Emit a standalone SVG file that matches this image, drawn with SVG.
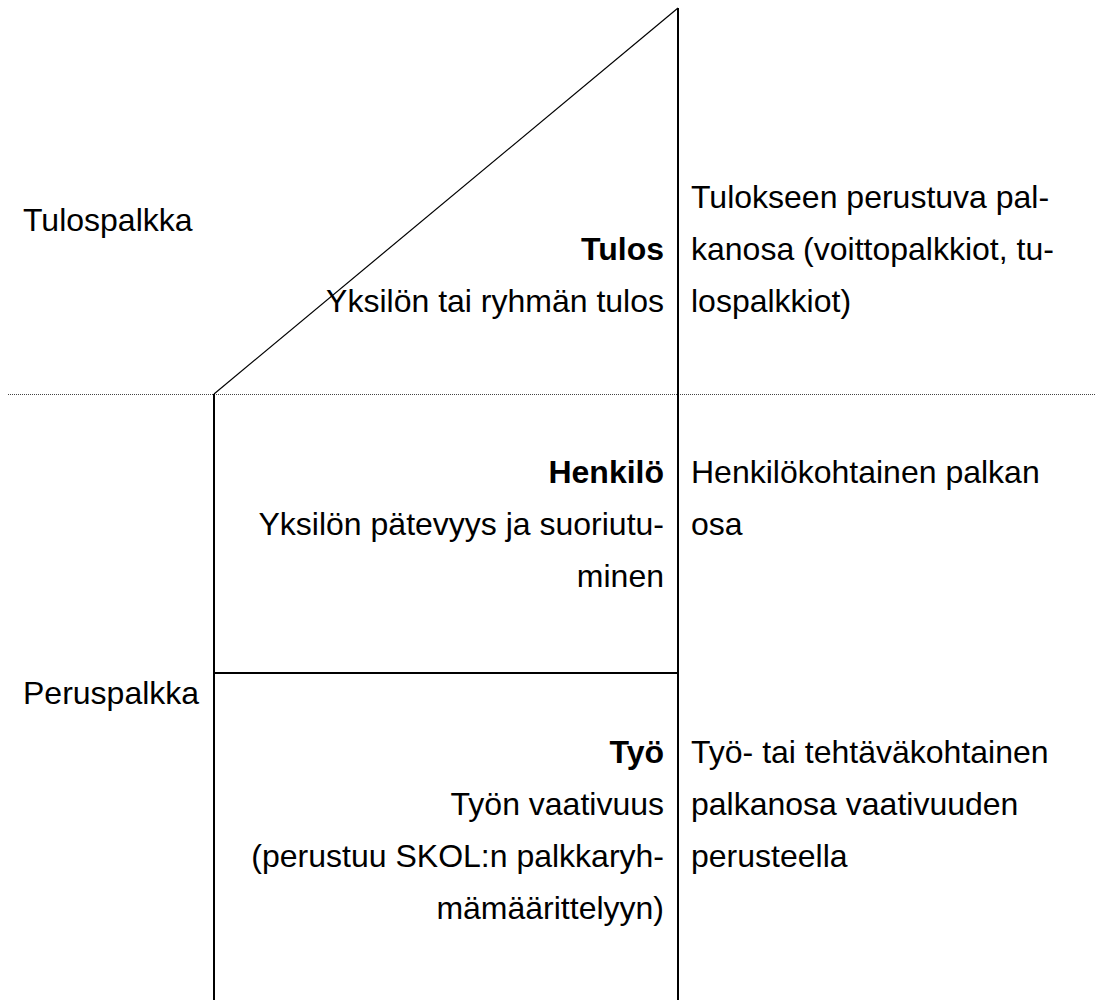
<svg xmlns="http://www.w3.org/2000/svg" width="1096" height="1000" viewBox="0 0 1096 1000">
<style>
text{font-family:"Liberation Sans",Arial,sans-serif;font-size:32px;fill:#000}
.b{font-weight:bold}
.m{text-anchor:end}
.ln{stroke:#000;stroke-width:2;fill:none}
.thin{stroke:#000;stroke-width:1.2;fill:none}
.dot{stroke:#444;stroke-width:1;stroke-dasharray:1 1;fill:none}
</style>
<rect width="1096" height="1000" fill="#fff"/>
<g id="connectors">
<line class="dot" x1="8" y1="394.5" x2="1096" y2="394.5"/>
<line class="thin" x1="678" y1="8" x2="214" y2="394"/>
<line class="ln" x1="678" y1="8" x2="678" y2="1000"/>
<line class="ln" x1="214" y1="394" x2="214" y2="1000"/>
<line class="ln" x1="214" y1="673" x2="678" y2="673"/>
</g>
<g id="label-tulospalkka"><text x="23" y="231">Tulospalkka</text></g>
<g id="label-peruspalkka"><text x="23" y="704">Peruspalkka</text></g>
<g id="node-tulos">
<text class="m b" x="664" y="260">Tulos</text>
<text class="m" x="664" y="312">Yksilön tai ryhmän tulos</text>
</g>
<g id="desc-tulos">
<text x="691" y="208">Tulokseen perustuva pal-</text>
<text x="691" y="260">kanosa (voittopalkkiot, tu-</text>
<text x="691" y="312">lospalkkiot)</text>
</g>
<g id="node-henkilo">
<text class="m b" x="664" y="483">Henkilö</text>
<text class="m" x="664" y="535">Yksilön pätevyys ja suoriutu-</text>
<text class="m" x="664" y="587">minen</text>
</g>
<g id="desc-henkilo">
<text x="691" y="483">Henkilökohtainen palkan</text>
<text x="691" y="535">osa</text>
</g>
<g id="node-tyo">
<text class="m b" x="664" y="763">Työ</text>
<text class="m" x="664" y="815">Työn vaativuus</text>
<text class="m" x="664" y="867">(perustuu SKOL:n palkkaryh-</text>
<text class="m" x="664" y="919">mämäärittelyyn)</text>
</g>
<g id="desc-tyo">
<text x="691" y="763">Työ- tai tehtäväkohtainen</text>
<text x="691" y="815">palkanosa vaativuuden</text>
<text x="691" y="867">perusteella</text>
</g>
</svg>
